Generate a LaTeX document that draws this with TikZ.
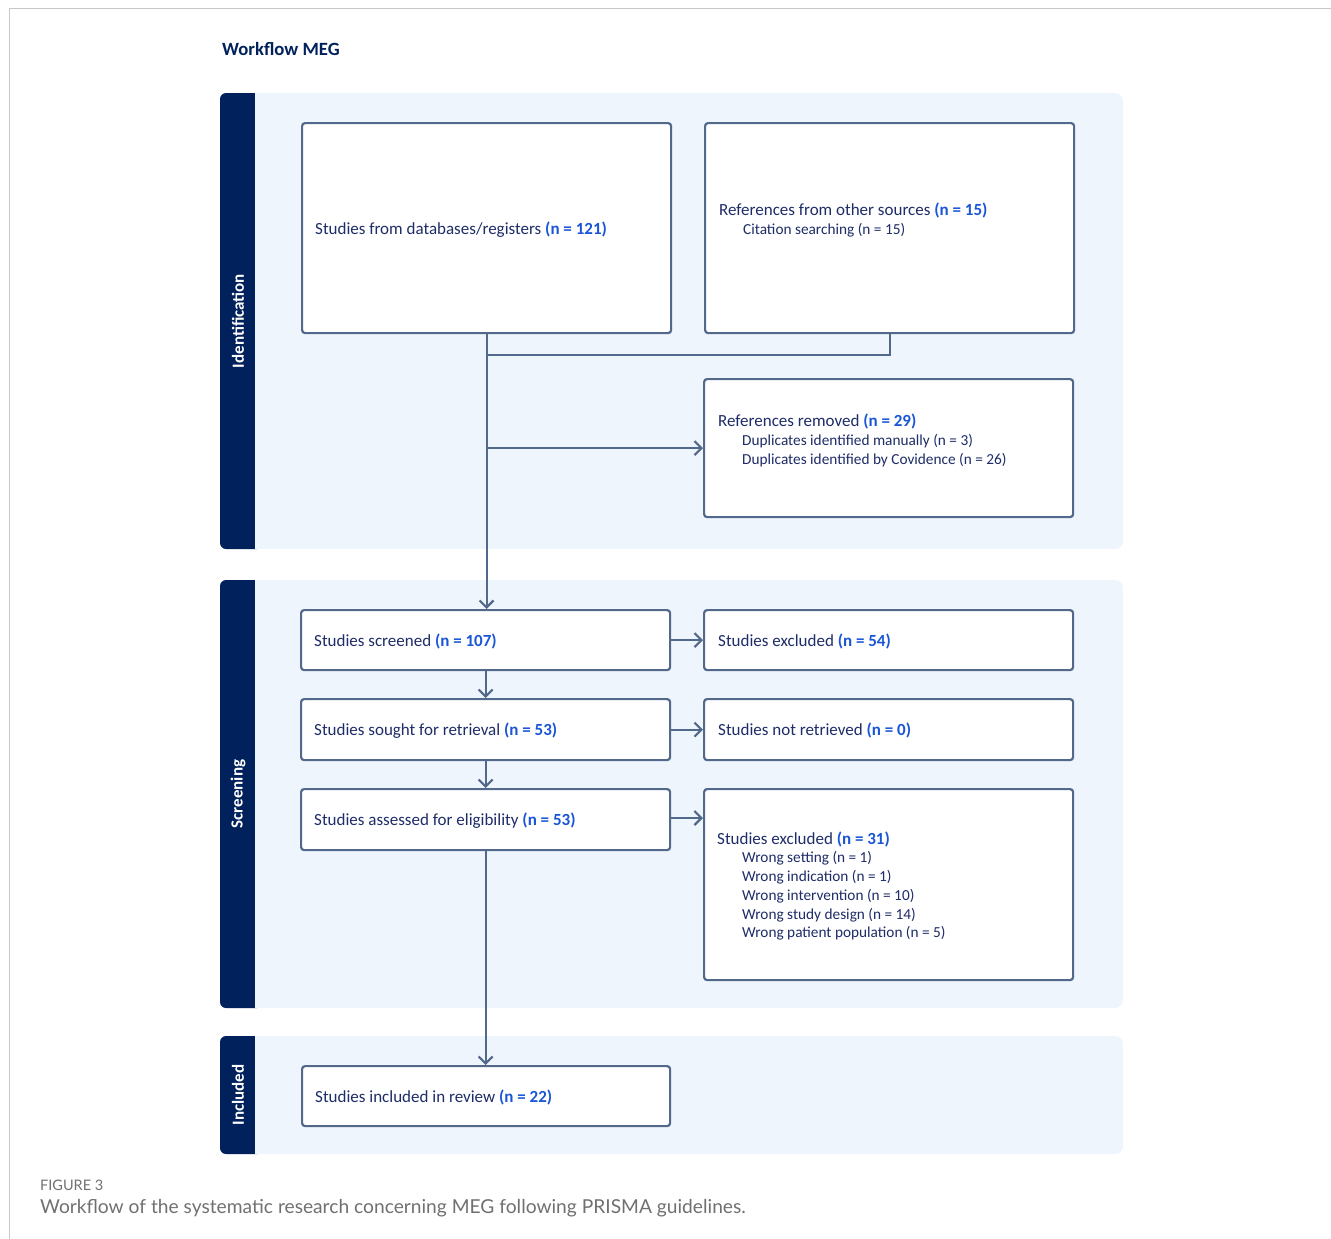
\documentclass[tikz,border=0pt]{standalone}
\usepackage{fontspec}
\setmainfont{Carlito}
\newfontfamily\capfont{Lato}
\usetikzlibrary{arrows.meta}
\definecolor{navy}{RGB}{0,33,91}
\definecolor{panelbg}{RGB}{238,245,253}
\definecolor{boxline}{RGB}{82,105,140}
\definecolor{txt}{RGB}{30,44,104}
\definecolor{nb}{RGB}{25,85,215}
\definecolor{framegray}{RGB}{200,200,200}
\definecolor{capgray}{RGB}{112,112,112}
\newcommand{\nv}[1]{\textcolor{nb}{\bfseries #1}}
\begin{document}
\begin{tikzpicture}[x=1pt,y=-1pt,
  box/.style={draw=boxline, line width=2.2pt, rounded corners=3pt, fill=white, inner sep=0pt, anchor=north west},
  lbl/.style={anchor=base west, inner sep=0pt, text=txt, font=\fontsize{17}{20}\selectfont},
  sub/.style={anchor=base west, inner sep=0pt, text=txt, font=\fontsize{15.3}{18}\selectfont},
  arr/.style={line width=2.2pt, draw=boxline, -{Straight Barb[length=7pt,width=14pt]}},
  conn/.style={line width=2.2pt, draw=boxline},
  side/.style={rotate=90, text=white, font=\fontsize{17}{20}\selectfont\bfseries, inner sep=0pt}
]
\useasboundingbox (0,0) rectangle (1331,1239);
% frame
\draw[framegray, line width=1pt] (9,1239) -- (9,9) -- (1331,9);
% title
\node[anchor=base west, inner sep=0pt, text=navy, font=\fontsize{18.7}{22}\selectfont\bfseries] (title) at (222,56) {Workflow MEG};
% panels
\foreach \ya/\yb in {93/549, 580/1008, 1036/1154}{
  \fill[panelbg, rounded corners=8pt] (220,\ya) rectangle (1123,\yb);
  \fill[navy, rounded corners=6pt] (220,\ya) rectangle (263,\yb);
  \fill[panelbg] (255,\ya) rectangle (264,\yb);
}
\node[side] (sid) at (238,321) {Identification};
\node[side] (sscr) at (238,794) {Screening};
\node[side] (sinc) at (238,1095) {Included};
% boxes
\node[box, minimum width=369pt, minimum height=210pt] (db)  at (301,122) {};
\node[box, minimum width=369pt, minimum height=210pt] (oth) at (704,122) {};
\node[box, minimum width=369pt, minimum height=138pt] (rem) at (703,378) {};
\node[box, minimum width=369pt, minimum height=60pt] (scr) at (300,609) {};
\node[box, minimum width=369pt, minimum height=60pt] (ex54) at (703,609) {};
\node[box, minimum width=369pt, minimum height=61pt] (sou) at (300,698) {};
\node[box, minimum width=369pt, minimum height=61pt] (nret) at (703,698) {};
\node[box, minimum width=369pt, minimum height=61pt] (ass) at (300,788) {};
\node[box, minimum width=369pt, minimum height=191pt] (ex31) at (703,788) {};
\node[box, minimum width=368pt, minimum height=60pt] (inc) at (301,1065) {};
% texts
\node[lbl] (t1) at (315,234) {Studies from databases/registers \nv{(n = 121)}};
\node[lbl] (t2) at (719,215) {References from other sources \nv{(n = 15)}};
\node[sub] (t2a) at (743,234) {Citation searching (n = 15)};
\node[lbl] (t3) at (718,426) {References removed \nv{(n = 29)}};
\node[sub] (t3a) at (742,445) {Duplicates identified manually (n = 3)};
\node[sub] (t3b) at (742,464) {Duplicates identified by Covidence (n = 26)};
\node[lbl] (t4) at (314,646) {Studies screened \nv{(n = 107)}};
\node[lbl] (t5) at (718,646) {Studies excluded \nv{(n = 54)}};
\node[lbl] (t6) at (314,735) {Studies sought for retrieval \nv{(n = 53)}};
\node[lbl] (t7) at (718,735) {Studies not retrieved \nv{(n = 0)}};
\node[lbl] (t8) at (314,825) {Studies assessed for eligibility \nv{(n = 53)}};
\node[lbl] (t9) at (717,844) {Studies excluded \nv{(n = 31)}};
\node[sub] (t9a) at (742,862) {Wrong setting (n = 1)};
\node[sub] (t9b) at (742,881) {Wrong indication (n = 1)};
\node[sub] (t9c) at (742,900) {Wrong intervention (n = 10)};
\node[sub] (t9d) at (742,919) {Wrong study design (n = 14)};
\node[sub] (t9e) at (742,937) {Wrong patient population (n = 5)};
\node[lbl] (t10) at (315,1102) {Studies included in review \nv{(n = 22)}};
% connectors
\coordinate (j) at (db.south |- 0,355);
\draw[conn] (oth.south) |- (j);
\draw[arr] (db.south) -- (db.south |- scr.north);
\coordinate (k) at (db.south |- rem.west);
\draw[arr] (k) -- (rem.west);
\draw[arr] (scr.east) -- (ex54.west);
\draw[arr] (scr.south) -- (sou.north);
\draw[arr] (sou.east) -- (nret.west);
\draw[arr] (sou.south) -- (ass.north);
\draw[arr] (ass.east |- 0,818) -- (ex31.west |- 0,818);
\draw[arr] (ass.south) -- (ass.south |- inc.north);
% caption
\node[anchor=base west, inner sep=0pt, text=capgray, font=\capfont\fontsize{14.5}{16}\selectfont] (cap1) at (40,1190) {FIGURE 3};
\node[anchor=base west, inner sep=0pt, text=capgray, font=\capfont\fontsize{19.2}{22}\selectfont] (cap2) at (40,1213) {Workflow of the systematic research concerning MEG following PRISMA guidelines.};
\end{tikzpicture}
\end{document}
